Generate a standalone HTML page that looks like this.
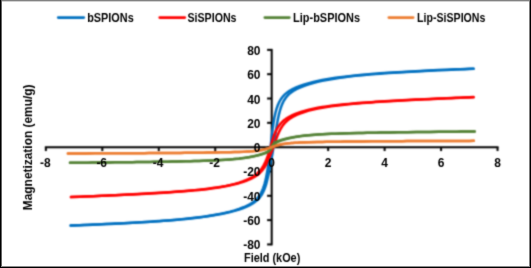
<!DOCTYPE html>
<html><head><meta charset="utf-8"><style>
html,body{margin:0;padding:0;background:#fff;}
body{width:531px;height:268px;overflow:hidden;font-family:"Liberation Sans",sans-serif;}
svg{display:block;}
</style></head><body>
<svg width="531" height="268" viewBox="0 0 531 268">
<rect width="531" height="268" fill="#fff"/>
<defs><filter id="bl" x="0" y="0" width="531" height="268" filterUnits="userSpaceOnUse" color-interpolation-filters="sRGB"><feConvolveMatrix order="5" kernelMatrix="0.00009 0.00198 0.00548 0.00198 0.00009 0.00198 0.04220 0.11707 0.04220 0.00198 0.00548 0.11707 0.32480 0.11707 0.00548 0.00198 0.04220 0.11707 0.04220 0.00198 0.00009 0.00198 0.00548 0.00198 0.00009" edgeMode="none" preserveAlpha="false"/></filter><filter id="bt" x="0" y="0" width="531" height="268" filterUnits="userSpaceOnUse" color-interpolation-filters="sRGB"><feConvolveMatrix order="5" kernelMatrix="0.00000 0.00013 0.00070 0.00013 0.00000 0.00013 0.01910 0.09973 0.01910 0.00013 0.00070 0.09973 0.52080 0.09973 0.00070 0.00013 0.01910 0.09973 0.01910 0.00013 0.00000 0.00013 0.00070 0.00013 0.00000" edgeMode="none" preserveAlpha="false"/></filter></defs>
<g filter="url(#bl)">
<g stroke="#000" stroke-width="2.0" fill="none">
<line x1="44.86" y1="147.25" x2="498.54" y2="147.25"/>
<line x1="271.70" y1="48.92" x2="271.70" y2="245.38"/>
<line x1="45.86" y1="147.25" x2="45.86" y2="151.05"/>
<line x1="102.32" y1="147.25" x2="102.32" y2="151.05"/>
<line x1="158.78" y1="147.25" x2="158.78" y2="151.05"/>
<line x1="215.24" y1="147.25" x2="215.24" y2="151.05"/>
<line x1="271.70" y1="147.25" x2="271.70" y2="151.05"/>
<line x1="328.16" y1="147.25" x2="328.16" y2="151.05"/>
<line x1="384.62" y1="147.25" x2="384.62" y2="151.05"/>
<line x1="441.08" y1="147.25" x2="441.08" y2="151.05"/>
<line x1="497.54" y1="147.25" x2="497.54" y2="151.05"/>
<line x1="267.10" y1="244.43" x2="271.70" y2="244.43"/>
<line x1="267.10" y1="220.11" x2="271.70" y2="220.11"/>
<line x1="267.10" y1="195.79" x2="271.70" y2="195.79"/>
<line x1="267.10" y1="171.47" x2="271.70" y2="171.47"/>
<line x1="267.10" y1="147.15" x2="271.70" y2="147.15"/>
<line x1="267.10" y1="122.83" x2="271.70" y2="122.83"/>
<line x1="267.10" y1="98.51" x2="271.70" y2="98.51"/>
<line x1="267.10" y1="74.19" x2="271.70" y2="74.19"/>
<line x1="267.10" y1="49.87" x2="271.70" y2="49.87"/>
</g>
<polyline points="70.70,225.52 75.13,225.35 79.56,225.17 83.99,224.99 88.42,224.81 92.85,224.62 97.28,224.43 101.71,224.24 106.14,224.04 110.57,223.83 115.00,223.62 119.43,223.40 123.86,223.18 128.29,222.95 132.72,222.71 137.15,222.46 141.58,222.20 146.01,221.93 150.44,221.65 154.87,221.36 159.30,221.05 163.73,220.72 168.16,220.38 172.59,220.02 177.02,219.63 181.45,219.22 185.88,218.78 190.31,218.31 194.74,217.80 199.17,217.25 203.60,216.65 208.03,216.00 212.46,215.29 216.89,214.50 221.32,213.63 225.75,212.67 230.18,211.59 234.61,210.36 239.04,208.95 243.47,207.28 243.75,207.16 244.04,207.04 244.32,206.92 244.60,206.80 244.89,206.68 245.17,206.55 245.46,206.42 245.74,206.29 246.02,206.16 246.31,206.03 246.59,205.89 246.87,205.76 247.16,205.62 247.44,205.47 247.73,205.33 248.01,205.18 248.29,205.04 248.58,204.89 248.86,204.73 249.14,204.58 249.43,204.42 249.71,204.25 250.00,204.09 250.28,203.92 250.56,203.75 250.85,203.57 251.13,203.40 251.41,203.21 251.70,203.03 251.98,202.84 252.27,202.65 252.55,202.45 252.83,202.24 253.12,202.04 253.40,201.83 253.68,201.61 253.97,201.39 254.25,201.16 254.54,200.92 254.82,200.68 255.10,200.43 255.39,200.18 255.67,199.92 255.95,199.65 256.24,199.37 256.52,199.08 256.80,198.79 257.09,198.49 257.37,198.17 257.66,197.84 257.94,197.51 258.22,197.16 258.51,196.80 258.79,196.42 259.07,196.03 259.36,195.62 259.64,195.20 259.93,194.76 260.21,194.30 260.49,193.82 260.78,193.32 261.06,192.80 261.34,192.25 261.63,191.68 261.91,191.08 262.20,190.44 262.48,189.78 262.76,189.08 263.05,188.35 263.33,187.58 263.61,186.77 263.90,185.91 264.18,185.01 264.47,184.06 264.75,183.05 265.03,181.99 265.32,180.88 265.60,179.70 265.88,178.47 266.17,177.16 266.45,175.79 266.73,174.35 267.02,172.83 267.30,171.24 267.59,169.57 267.87,167.82 268.15,165.99 268.44,164.08 268.72,162.08 269.00,160.00 269.29,157.82 269.57,155.57 269.86,153.22 270.14,150.80 270.42,148.31 270.71,145.76 270.99,143.17 271.27,140.57 271.56,137.99 271.84,135.46 272.13,133.00 272.41,130.64 272.69,128.40 272.98,126.29 273.26,124.31 273.54,122.46 273.83,120.73 274.11,119.12 274.40,117.61 274.68,116.21 274.96,114.89 275.25,113.65 275.53,112.49 275.81,111.40 276.10,110.36 276.38,109.39 276.67,108.47 276.95,107.60 277.23,106.78 277.52,106.00 277.80,105.26 278.08,104.56 278.37,103.89 278.65,103.26 278.93,102.66 279.22,102.08 279.50,101.53 279.79,101.00 280.07,100.50 280.35,100.02 280.64,99.56 280.92,99.12 281.20,98.70 281.49,98.29 281.77,97.90 282.06,97.52 282.34,97.16 282.62,96.81 282.91,96.47 283.19,96.15 283.47,95.83 283.76,95.53 284.04,95.23 284.33,94.94 284.61,94.67 284.89,94.40 285.18,94.13 285.46,93.88 285.74,93.63 286.03,93.39 286.31,93.16 286.60,92.93 286.88,92.70 287.16,92.49 287.45,92.27 287.73,92.07 288.01,91.86 288.30,91.66 288.58,91.47 288.86,91.28 289.15,91.09 289.43,90.91 289.72,90.73 290.00,90.56 290.28,90.39 290.57,90.22 290.85,90.05 291.13,89.89 291.42,89.73 291.70,89.58 291.99,89.42 292.27,89.27 292.55,89.12 292.84,88.98 293.12,88.83 293.40,88.69 293.69,88.55 293.97,88.41 294.26,88.28 294.54,88.15 294.82,88.01 295.11,87.88 295.39,87.76 295.67,87.63 295.96,87.51 296.24,87.38 296.53,87.26 296.81,87.14 297.09,87.03 297.38,86.91 297.66,86.79 297.94,86.68 298.23,86.57 298.51,86.46 298.80,86.35 299.08,86.24 299.36,86.13 299.65,86.03 299.93,85.92 304.38,84.42 308.83,83.13 313.28,81.99 317.74,80.98 322.19,80.08 326.64,79.27 331.09,78.53 335.54,77.86 339.99,77.24 344.45,76.67 348.90,76.15 353.35,75.66 357.80,75.21 362.25,74.79 366.70,74.39 371.16,74.02 375.61,73.67 380.06,73.34 384.51,73.03 388.96,72.73 393.41,72.44 397.87,72.17 402.32,71.91 406.77,71.65 411.22,71.41 415.67,71.18 420.12,70.95 424.58,70.73 429.03,70.52 433.48,70.31 437.93,70.11 442.38,69.91 446.83,69.72 451.29,69.53 455.74,69.34 460.19,69.16 464.64,68.99 469.09,68.81 473.54,68.64" fill="none" stroke="#0070C0" stroke-width="2.5" stroke-linejoin="round" stroke-linecap="round"/>
<polyline points="70.70,225.58 75.13,225.41 79.56,225.24 83.99,225.06 88.42,224.88 92.85,224.69 97.28,224.50 101.71,224.31 106.14,224.11 110.57,223.91 115.00,223.70 119.43,223.49 123.86,223.26 128.29,223.04 132.72,222.80 137.15,222.55 141.58,222.30 146.01,222.03 150.44,221.76 154.87,221.47 159.30,221.17 163.73,220.85 168.16,220.51 172.59,220.16 177.02,219.78 181.45,219.38 185.88,218.95 190.31,218.49 194.74,218.00 199.17,217.46 203.60,216.88 208.03,216.25 212.46,215.57 216.89,214.81 221.32,213.98 225.75,213.05 230.18,212.02 234.61,210.85 239.04,209.51 243.47,207.95 243.75,207.84 244.04,207.73 244.32,207.62 244.60,207.51 244.89,207.39 245.17,207.28 245.46,207.16 245.74,207.04 246.02,206.92 246.31,206.80 246.59,206.67 246.87,206.55 247.16,206.42 247.44,206.29 247.73,206.16 248.01,206.02 248.29,205.89 248.58,205.75 248.86,205.61 249.14,205.47 249.43,205.33 249.71,205.18 250.00,205.03 250.28,204.88 250.56,204.73 250.85,204.57 251.13,204.41 251.41,204.25 251.70,204.08 251.98,203.92 252.27,203.74 252.55,203.57 252.83,203.39 253.12,203.21 253.40,203.02 253.68,202.83 253.97,202.64 254.25,202.44 254.54,202.24 254.82,202.03 255.10,201.82 255.39,201.60 255.67,201.38 255.95,201.15 256.24,200.91 256.52,200.67 256.80,200.43 257.09,200.17 257.37,199.91 257.66,199.64 257.94,199.36 258.22,199.08 258.51,198.78 258.79,198.48 259.07,198.16 259.36,197.83 259.64,197.50 259.93,197.15 260.21,196.78 260.49,196.41 260.78,196.02 261.06,195.61 261.34,195.19 261.63,194.75 261.91,194.29 262.20,193.81 262.48,193.31 262.76,192.78 263.05,192.24 263.33,191.66 263.61,191.06 263.90,190.43 264.18,189.76 264.47,189.07 264.75,188.34 265.03,187.57 265.32,186.76 265.60,185.90 265.88,185.01 266.17,184.06 266.45,183.07 266.73,182.03 267.02,180.93 267.30,179.78 267.59,178.58 267.87,177.33 268.15,176.03 268.44,174.68 268.72,173.28 269.00,171.85 269.29,170.38 269.57,168.89 269.86,167.39 270.14,165.87 270.42,164.36 270.71,162.85 270.99,161.35 271.27,159.85 271.56,158.34 271.84,156.82 272.13,155.27 272.41,153.68 272.69,152.03 272.98,150.33 273.26,148.57 273.54,146.75 273.83,144.89 274.11,142.99 274.40,141.06 274.68,139.13 274.96,137.19 275.25,135.26 275.53,133.35 275.81,131.48 276.10,129.65 276.38,127.87 276.67,126.14 276.95,124.47 277.23,122.86 277.52,121.31 277.80,119.83 278.08,118.41 278.37,117.06 278.65,115.77 278.93,114.54 279.22,113.38 279.50,112.27 279.79,111.22 280.07,110.22 280.35,109.27 280.64,108.37 280.92,107.51 281.20,106.70 281.49,105.93 281.77,105.20 282.06,104.50 282.34,103.84 282.62,103.21 282.91,102.61 283.19,102.04 283.47,101.49 283.76,100.97 284.04,100.47 284.33,99.99 284.61,99.53 284.89,99.09 285.18,98.67 285.46,98.26 285.74,97.87 286.03,97.50 286.31,97.13 286.60,96.79 286.88,96.45 287.16,96.12 287.45,95.81 287.73,95.50 288.01,95.21 288.30,94.92 288.58,94.65 288.86,94.38 289.15,94.12 289.43,93.86 289.72,93.61 290.00,93.37 290.28,93.14 290.57,92.91 290.85,92.69 291.13,92.47 291.42,92.26 291.70,92.05 291.99,91.85 292.27,91.65 292.55,91.46 292.84,91.27 293.12,91.08 293.40,90.90 293.69,90.72 293.97,90.55 294.26,90.38 294.54,90.21 294.82,90.04 295.11,89.88 295.39,89.72 295.67,89.57 295.96,89.41 296.24,89.26 296.53,89.11 296.81,88.97 297.09,88.82 297.38,88.68 297.66,88.54 297.94,88.40 298.23,88.27 298.51,88.14 298.80,88.00 299.08,87.88 299.36,87.75 299.65,87.62 299.93,87.50 304.38,85.74 308.83,84.27 313.28,82.99 317.74,81.87 322.19,80.88 326.64,79.99 331.09,79.18 335.54,78.45 339.99,77.78 344.45,77.17 348.90,76.61 353.35,76.09 357.80,75.61 362.25,75.16 366.70,74.74 371.16,74.35 375.61,73.98 380.06,73.63 384.51,73.30 388.96,72.99 393.41,72.69 397.87,72.41 402.32,72.14 406.77,71.88 411.22,71.63 415.67,71.38 420.12,71.15 424.58,70.92 429.03,70.71 433.48,70.49 437.93,70.29 442.38,70.08 446.83,69.89 451.29,69.69 455.74,69.51 460.19,69.32 464.64,69.14 469.09,68.97 473.54,68.79" fill="none" stroke="#0070C0" stroke-width="2.5" stroke-linejoin="round" stroke-linecap="round"/>
<polyline points="70.98,197.04 75.41,196.86 79.83,196.68 84.25,196.50 88.68,196.31 93.10,196.13 97.52,195.94 101.94,195.74 106.37,195.55 110.79,195.35 115.21,195.14 119.63,194.94 124.06,194.72 128.48,194.51 132.90,194.29 137.33,194.06 141.75,193.82 146.17,193.58 150.59,193.34 155.02,193.08 159.44,192.81 163.86,192.53 168.28,192.24 172.71,191.94 177.13,191.62 181.55,191.28 185.97,190.93 190.40,190.54 194.82,190.13 199.24,189.69 203.67,189.21 208.09,188.68 212.51,188.10 216.93,187.45 221.36,186.72 225.78,185.89 230.20,184.95 234.62,183.86 239.05,182.59 243.47,181.08 243.75,180.97 244.04,180.86 244.32,180.75 244.60,180.64 244.89,180.53 245.17,180.42 245.46,180.30 245.74,180.19 246.02,180.07 246.31,179.95 246.59,179.83 246.87,179.70 247.16,179.58 247.44,179.45 247.73,179.32 248.01,179.19 248.29,179.06 248.58,178.93 248.86,178.79 249.14,178.65 249.43,178.51 249.71,178.37 250.00,178.23 250.28,178.08 250.56,177.93 250.85,177.78 251.13,177.62 251.41,177.46 251.70,177.30 251.98,177.14 252.27,176.97 252.55,176.80 252.83,176.63 253.12,176.46 253.40,176.28 253.68,176.09 253.97,175.91 254.25,175.71 254.54,175.52 254.82,175.32 255.10,175.12 255.39,174.91 255.67,174.69 255.95,174.47 256.24,174.25 256.52,174.02 256.80,173.78 257.09,173.54 257.37,173.30 257.66,173.04 257.94,172.78 258.22,172.51 258.51,172.23 258.79,171.95 259.07,171.65 259.36,171.35 259.64,171.04 259.93,170.72 260.21,170.38 260.49,170.04 260.78,169.68 261.06,169.32 261.34,168.94 261.63,168.55 261.91,168.14 262.20,167.72 262.48,167.29 262.76,166.84 263.05,166.37 263.33,165.89 263.61,165.39 263.90,164.87 264.18,164.34 264.47,163.78 264.75,163.21 265.03,162.62 265.32,162.01 265.60,161.37 265.88,160.72 266.17,160.05 266.45,159.35 266.73,158.64 267.02,157.90 267.30,157.15 267.59,156.37 267.87,155.57 268.15,154.75 268.44,153.91 268.72,153.04 269.00,152.16 269.29,151.25 269.57,150.32 269.86,149.37 270.14,148.40 270.42,147.40 270.71,146.40 270.99,145.38 271.27,144.35 271.56,143.33 271.84,142.31 272.13,141.31 272.41,140.34 272.69,139.39 272.98,138.48 273.26,137.60 273.54,136.76 273.83,135.95 274.11,135.18 274.40,134.44 274.68,133.73 274.96,133.05 275.25,132.39 275.53,131.76 275.81,131.16 276.10,130.57 276.38,130.01 276.67,129.47 276.95,128.95 277.23,128.45 277.52,127.96 277.80,127.49 278.08,127.04 278.37,126.60 278.65,126.18 278.93,125.78 279.22,125.38 279.50,125.00 279.79,124.63 280.07,124.28 280.35,123.93 280.64,123.60 280.92,123.28 281.20,122.97 281.49,122.66 281.77,122.37 282.06,122.08 282.34,121.80 282.62,121.54 282.91,121.27 283.19,121.02 283.47,120.77 283.76,120.53 284.04,120.29 284.33,120.06 284.61,119.84 284.89,119.62 285.18,119.40 285.46,119.19 285.74,118.99 286.03,118.79 286.31,118.60 286.60,118.40 286.88,118.22 287.16,118.03 287.45,117.85 287.73,117.68 288.01,117.50 288.30,117.33 288.58,117.17 288.86,117.00 289.15,116.84 289.43,116.69 289.72,116.53 290.00,116.38 290.28,116.23 290.57,116.08 290.85,115.94 291.13,115.79 291.42,115.65 291.70,115.51 291.99,115.38 292.27,115.24 292.55,115.11 292.84,114.98 293.12,114.85 293.40,114.73 293.69,114.60 293.97,114.48 294.26,114.36 294.54,114.24 294.82,114.12 295.11,114.00 295.39,113.89 295.67,113.77 295.96,113.66 296.24,113.55 296.53,113.44 296.81,113.33 297.09,113.23 297.38,113.12 297.66,113.02 297.94,112.91 298.23,112.81 298.51,112.71 298.80,112.61 299.08,112.52 299.36,112.42 299.65,112.32 299.93,112.23 304.38,110.87 308.83,109.71 313.28,108.72 317.74,107.85 322.19,107.08 326.64,106.41 331.09,105.80 335.54,105.25 339.99,104.75 344.45,104.29 348.90,103.87 353.35,103.48 357.80,103.11 362.25,102.77 366.70,102.44 371.16,102.13 375.61,101.84 380.06,101.55 384.51,101.28 388.96,101.02 393.41,100.77 397.87,100.53 402.32,100.29 406.77,100.06 411.22,99.84 415.67,99.62 420.12,99.40 424.58,99.19 429.03,98.99 433.48,98.79 437.93,98.59 442.38,98.39 446.83,98.20 451.29,98.01 455.74,97.83 460.19,97.64 464.64,97.46 469.09,97.28 473.54,97.10" fill="none" stroke="#FF0000" stroke-width="2.5" stroke-linejoin="round" stroke-linecap="round"/>
<polyline points="70.98,197.12 75.41,196.94 79.83,196.76 84.25,196.58 88.68,196.40 93.10,196.21 97.52,196.02 101.94,195.83 106.37,195.63 110.79,195.44 115.21,195.23 119.63,195.03 124.06,194.82 128.48,194.60 132.90,194.39 137.33,194.16 141.75,193.93 146.17,193.69 150.59,193.45 155.02,193.19 159.44,192.93 163.86,192.66 168.28,192.38 172.71,192.08 177.13,191.77 181.55,191.44 185.97,191.09 190.40,190.72 194.82,190.32 199.24,189.89 203.67,189.43 208.09,188.92 212.51,188.36 216.93,187.75 221.36,187.05 225.78,186.27 230.20,185.39 234.62,184.37 239.05,183.18 243.47,181.79 243.75,181.69 244.04,181.59 244.32,181.49 244.60,181.39 244.89,181.28 245.17,181.18 245.46,181.07 245.74,180.97 246.02,180.86 246.31,180.75 246.59,180.64 246.87,180.53 247.16,180.41 247.44,180.30 247.73,180.18 248.01,180.06 248.29,179.94 248.58,179.82 248.86,179.70 249.14,179.58 249.43,179.45 249.71,179.32 250.00,179.19 250.28,179.06 250.56,178.92 250.85,178.79 251.13,178.65 251.41,178.51 251.70,178.37 251.98,178.22 252.27,178.07 252.55,177.92 252.83,177.77 253.12,177.62 253.40,177.46 253.68,177.30 253.97,177.13 254.25,176.97 254.54,176.80 254.82,176.63 255.10,176.45 255.39,176.27 255.67,176.09 255.95,175.90 256.24,175.71 256.52,175.51 256.80,175.31 257.09,175.11 257.37,174.90 257.66,174.69 257.94,174.47 258.22,174.24 258.51,174.01 258.79,173.78 259.07,173.53 259.36,173.29 259.64,173.03 259.93,172.77 260.21,172.50 260.49,172.22 260.78,171.94 261.06,171.64 261.34,171.34 261.63,171.03 261.91,170.70 262.20,170.37 262.48,170.03 262.76,169.67 263.05,169.31 263.33,168.93 263.61,168.53 263.90,168.13 264.18,167.71 264.47,167.27 264.75,166.82 265.03,166.36 265.32,165.88 265.60,165.38 265.88,164.86 266.17,164.33 266.45,163.78 266.73,163.22 267.02,162.63 267.30,162.03 267.59,161.41 267.87,160.77 268.15,160.12 268.44,159.46 268.72,158.78 269.00,158.10 269.29,157.40 269.57,156.70 269.86,156.00 270.14,155.30 270.42,154.60 270.71,153.90 270.99,153.21 271.27,152.52 271.56,151.83 271.84,151.14 272.13,150.43 272.41,149.72 272.69,148.99 272.98,148.24 273.26,147.47 273.54,146.69 273.83,145.90 274.11,145.09 274.40,144.28 274.68,143.45 274.96,142.63 275.25,141.81 275.53,141.00 275.81,140.19 276.10,139.39 276.38,138.61 276.67,137.83 276.95,137.08 277.23,136.33 277.52,135.61 277.80,134.91 278.08,134.22 278.37,133.55 278.65,132.90 278.93,132.27 279.22,131.66 279.50,131.07 279.79,130.50 280.07,129.95 280.35,129.42 280.64,128.90 280.92,128.40 281.20,127.92 281.49,127.46 281.77,127.01 282.06,126.57 282.34,126.15 282.62,125.75 282.91,125.36 283.19,124.98 283.47,124.61 283.76,124.26 284.04,123.91 284.33,123.58 284.61,123.26 284.89,122.95 285.18,122.64 285.46,122.35 285.74,122.06 286.03,121.79 286.31,121.52 286.60,121.26 286.88,121.00 287.16,120.75 287.45,120.51 287.73,120.28 288.01,120.05 288.30,119.82 288.58,119.60 288.86,119.39 289.15,119.18 289.43,118.98 289.72,118.78 290.00,118.58 290.28,118.39 290.57,118.20 290.85,118.02 291.13,117.84 291.42,117.67 291.70,117.49 291.99,117.32 292.27,117.16 292.55,116.99 292.84,116.83 293.12,116.68 293.40,116.52 293.69,116.37 293.97,116.22 294.26,116.07 294.54,115.93 294.82,115.78 295.11,115.64 295.39,115.51 295.67,115.37 295.96,115.24 296.24,115.10 296.53,114.97 296.81,114.84 297.09,114.72 297.38,114.59 297.66,114.47 297.94,114.35 298.23,114.23 298.51,114.11 298.80,114.00 299.08,113.88 299.36,113.77 299.65,113.65 299.93,113.54 304.38,111.97 308.83,110.65 313.28,109.53 317.74,108.55 322.19,107.71 326.64,106.96 331.09,106.29 335.54,105.70 339.99,105.16 344.45,104.67 348.90,104.22 353.35,103.80 357.80,103.41 362.25,103.05 366.70,102.71 371.16,102.39 375.61,102.08 380.06,101.79 384.51,101.51 388.96,101.24 393.41,100.98 397.87,100.73 402.32,100.49 406.77,100.25 411.22,100.02 415.67,99.80 420.12,99.58 424.58,99.37 429.03,99.16 433.48,98.95 437.93,98.75 442.38,98.55 446.83,98.36 451.29,98.17 455.74,97.98 460.19,97.79 464.64,97.61 469.09,97.43 473.54,97.25" fill="none" stroke="#FF0000" stroke-width="2.5" stroke-linejoin="round" stroke-linecap="round"/>
<polyline points="70.00,162.80 74.44,162.76 78.89,162.72 83.34,162.68 87.79,162.64 92.24,162.59 96.68,162.55 101.13,162.50 105.58,162.46 110.03,162.41 114.48,162.36 118.93,162.31 123.37,162.26 127.82,162.21 132.27,162.16 136.72,162.10 141.17,162.04 145.61,161.98 150.06,161.92 154.51,161.85 158.96,161.78 163.41,161.71 167.85,161.63 172.30,161.55 176.75,161.47 181.20,161.37 185.65,161.27 190.09,161.16 194.54,161.05 198.99,160.92 203.44,160.78 207.89,160.62 212.33,160.44 216.78,160.23 221.23,160.00 225.68,159.73 230.13,159.41 234.57,159.02 239.02,158.56 243.47,158.00 243.75,157.96 244.04,157.92 244.32,157.88 244.60,157.84 244.89,157.80 245.17,157.76 245.46,157.71 245.74,157.67 246.02,157.63 246.31,157.58 246.59,157.54 246.87,157.49 247.16,157.45 247.44,157.40 247.73,157.35 248.01,157.30 248.29,157.26 248.58,157.21 248.86,157.16 249.14,157.11 249.43,157.05 249.71,157.00 250.00,156.95 250.28,156.90 250.56,156.84 250.85,156.79 251.13,156.73 251.41,156.68 251.70,156.62 251.98,156.57 252.27,156.51 252.55,156.45 252.83,156.39 253.12,156.33 253.40,156.27 253.68,156.21 253.97,156.14 254.25,156.08 254.54,156.02 254.82,155.95 255.10,155.89 255.39,155.82 255.67,155.75 255.95,155.69 256.24,155.62 256.52,155.55 256.80,155.48 257.09,155.41 257.37,155.33 257.66,155.26 257.94,155.18 258.22,155.11 258.51,155.03 258.79,154.96 259.07,154.88 259.36,154.80 259.64,154.72 259.93,154.64 260.21,154.55 260.49,154.47 260.78,154.38 261.06,154.30 261.34,154.21 261.63,154.12 261.91,154.03 262.20,153.94 262.48,153.84 262.76,153.75 263.05,153.65 263.33,153.55 263.61,153.45 263.90,153.34 264.18,153.23 264.47,153.12 264.75,153.01 265.03,152.89 265.32,152.77 265.60,152.64 265.88,152.51 266.17,152.37 266.45,152.23 266.73,152.07 267.02,151.91 267.30,151.74 267.59,151.55 267.87,151.35 268.15,151.13 268.44,150.89 268.72,150.63 269.00,150.34 269.29,150.01 269.57,149.66 269.86,149.27 270.14,148.84 270.42,148.38 270.71,147.89 270.99,147.38 271.27,146.87 271.56,146.35 271.84,145.86 272.13,145.39 272.41,144.95 272.69,144.56 272.98,144.20 273.26,143.87 273.54,143.58 273.83,143.32 274.11,143.08 274.40,142.87 274.68,142.67 274.96,142.49 275.25,142.32 275.53,142.16 275.81,142.01 276.10,141.86 276.38,141.73 276.67,141.60 276.95,141.47 277.23,141.35 277.52,141.24 277.80,141.12 278.08,141.02 278.37,140.91 278.65,140.81 278.93,140.70 279.22,140.60 279.50,140.51 279.79,140.41 280.07,140.32 280.35,140.23 280.64,140.14 280.92,140.05 281.20,139.96 281.49,139.87 281.77,139.79 282.06,139.71 282.34,139.62 282.62,139.54 282.91,139.46 283.19,139.38 283.47,139.31 283.76,139.23 284.04,139.15 284.33,139.08 284.61,139.01 284.89,138.93 285.18,138.86 285.46,138.79 285.74,138.72 286.03,138.65 286.31,138.58 286.60,138.51 286.88,138.45 287.16,138.38 287.45,138.32 287.73,138.25 288.01,138.19 288.30,138.13 288.58,138.06 288.86,138.00 289.15,137.94 289.43,137.88 289.72,137.82 290.00,137.77 290.28,137.71 290.57,137.65 290.85,137.59 291.13,137.54 291.42,137.48 291.70,137.43 291.99,137.38 292.27,137.32 292.55,137.27 292.84,137.22 293.12,137.17 293.40,137.12 293.69,137.07 293.97,137.02 294.26,136.97 294.54,136.93 294.82,136.88 295.11,136.83 295.39,136.79 295.67,136.74 295.96,136.70 296.24,136.65 296.53,136.61 296.81,136.57 297.09,136.52 297.38,136.48 297.66,136.44 297.94,136.40 298.23,136.36 298.51,136.32 298.80,136.28 299.08,136.24 299.36,136.20 299.65,136.16 299.93,136.13 304.41,135.59 308.89,135.15 313.37,134.79 317.85,134.48 322.33,134.22 326.81,134.00 331.29,133.80 335.77,133.63 340.26,133.47 344.74,133.33 349.22,133.21 353.70,133.09 358.18,132.99 362.66,132.89 367.14,132.80 371.62,132.71 376.10,132.63 380.58,132.56 385.06,132.49 389.54,132.42 394.02,132.35 398.50,132.29 402.98,132.23 407.46,132.17 411.95,132.12 416.43,132.06 420.91,132.01 425.39,131.96 429.87,131.91 434.35,131.86 438.83,131.82 443.31,131.77 447.79,131.73 452.27,131.68 456.75,131.64 461.23,131.60 465.71,131.56 470.19,131.52 474.67,131.48" fill="none" stroke="#538135" stroke-width="2.5" stroke-linejoin="round" stroke-linecap="round"/>
<polyline points="70.00,162.81 74.44,162.77 78.89,162.73 83.34,162.68 87.79,162.64 92.24,162.60 96.68,162.56 101.13,162.51 105.58,162.47 110.03,162.42 114.48,162.37 118.93,162.32 123.37,162.27 127.82,162.22 132.27,162.17 136.72,162.11 141.17,162.05 145.61,161.99 150.06,161.93 154.51,161.87 158.96,161.80 163.41,161.73 167.85,161.65 172.30,161.57 176.75,161.48 181.20,161.39 185.65,161.29 190.09,161.19 194.54,161.07 198.99,160.94 203.44,160.80 207.89,160.65 212.33,160.47 216.78,160.27 221.23,160.05 225.68,159.78 230.13,159.47 234.57,159.10 239.02,158.66 243.47,158.12 243.75,158.08 244.04,158.04 244.32,158.00 244.60,157.96 244.89,157.92 245.17,157.88 245.46,157.84 245.74,157.80 246.02,157.76 246.31,157.71 246.59,157.67 246.87,157.63 247.16,157.58 247.44,157.54 247.73,157.49 248.01,157.44 248.29,157.40 248.58,157.35 248.86,157.30 249.14,157.25 249.43,157.21 249.71,157.16 250.00,157.10 250.28,157.05 250.56,157.00 250.85,156.95 251.13,156.90 251.41,156.84 251.70,156.79 251.98,156.73 252.27,156.68 252.55,156.62 252.83,156.56 253.12,156.51 253.40,156.45 253.68,156.39 253.97,156.33 254.25,156.27 254.54,156.21 254.82,156.14 255.10,156.08 255.39,156.02 255.67,155.95 255.95,155.89 256.24,155.82 256.52,155.75 256.80,155.68 257.09,155.62 257.37,155.55 257.66,155.48 257.94,155.40 258.22,155.33 258.51,155.26 258.79,155.18 259.07,155.11 259.36,155.03 259.64,154.95 259.93,154.88 260.21,154.80 260.49,154.72 260.78,154.64 261.06,154.55 261.34,154.47 261.63,154.38 261.91,154.30 262.20,154.21 262.48,154.12 262.76,154.03 263.05,153.94 263.33,153.84 263.61,153.75 263.90,153.65 264.18,153.55 264.47,153.44 264.75,153.34 265.03,153.23 265.32,153.12 265.60,153.01 265.88,152.89 266.17,152.77 266.45,152.64 266.73,152.51 267.02,152.38 267.30,152.23 267.59,152.08 267.87,151.92 268.15,151.75 268.44,151.57 268.72,151.38 269.00,151.17 269.29,150.95 269.57,150.70 269.86,150.44 270.14,150.16 270.42,149.85 270.71,149.52 270.99,149.17 271.27,148.79 271.56,148.40 271.84,147.99 272.13,147.57 272.41,147.13 272.69,146.70 272.98,146.27 273.26,145.84 273.54,145.44 273.83,145.05 274.11,144.69 274.40,144.35 274.68,144.04 274.96,143.76 275.25,143.50 275.53,143.26 275.81,143.03 276.10,142.83 276.38,142.64 276.67,142.46 276.95,142.30 277.23,142.14 277.52,141.99 277.80,141.85 278.08,141.72 278.37,141.59 278.65,141.47 278.93,141.35 279.22,141.23 279.50,141.12 279.79,141.01 280.07,140.91 280.35,140.80 280.64,140.70 280.92,140.60 281.20,140.50 281.49,140.41 281.77,140.32 282.06,140.22 282.34,140.13 282.62,140.05 282.91,139.96 283.19,139.87 283.47,139.79 283.76,139.70 284.04,139.62 284.33,139.54 284.61,139.46 284.89,139.38 285.18,139.30 285.46,139.23 285.74,139.15 286.03,139.08 286.31,139.00 286.60,138.93 286.88,138.86 287.16,138.79 287.45,138.72 287.73,138.65 288.01,138.58 288.30,138.51 288.58,138.45 288.86,138.38 289.15,138.31 289.43,138.25 289.72,138.19 290.00,138.12 290.28,138.06 290.57,138.00 290.85,137.94 291.13,137.88 291.42,137.82 291.70,137.76 291.99,137.71 292.27,137.65 292.55,137.59 292.84,137.54 293.12,137.48 293.40,137.43 293.69,137.38 293.97,137.32 294.26,137.27 294.54,137.22 294.82,137.17 295.11,137.12 295.39,137.07 295.67,137.02 295.96,136.97 296.24,136.92 296.53,136.88 296.81,136.83 297.09,136.79 297.38,136.74 297.66,136.70 297.94,136.65 298.23,136.61 298.51,136.56 298.80,136.52 299.08,136.48 299.36,136.44 299.65,136.40 299.93,136.36 304.41,135.78 308.89,135.31 313.37,134.92 317.85,134.59 322.33,134.32 326.81,134.08 331.29,133.87 335.77,133.69 340.26,133.53 344.74,133.39 349.22,133.25 353.70,133.14 358.18,133.03 362.66,132.93 367.14,132.83 371.62,132.75 376.10,132.66 380.58,132.59 385.06,132.51 389.54,132.44 394.02,132.38 398.50,132.31 402.98,132.25 407.46,132.19 411.95,132.14 416.43,132.08 420.91,132.03 425.39,131.98 429.87,131.93 434.35,131.88 438.83,131.84 443.31,131.79 447.79,131.74 452.27,131.70 456.75,131.66 461.23,131.62 465.71,131.57 470.19,131.53 474.67,131.49" fill="none" stroke="#538135" stroke-width="2.5" stroke-linejoin="round" stroke-linecap="round"/>
<polyline points="67.88,153.44 72.38,153.43 76.88,153.41 81.39,153.40 85.89,153.39 90.39,153.37 94.89,153.36 99.40,153.35 103.90,153.33 108.40,153.31 112.90,153.30 117.40,153.28 121.91,153.26 126.41,153.24 130.91,153.22 135.41,153.20 139.92,153.17 144.42,153.15 148.92,153.12 153.42,153.09 157.93,153.06 162.43,153.03 166.93,153.00 171.43,152.96 175.94,152.93 180.44,152.89 184.94,152.85 189.44,152.80 193.94,152.75 198.45,152.70 202.95,152.64 207.45,152.58 211.95,152.52 216.46,152.44 220.96,152.36 225.46,152.27 229.96,152.17 234.47,152.05 238.97,151.90 243.47,151.73 243.75,151.71 244.04,151.70 244.32,151.69 244.60,151.68 244.89,151.66 245.17,151.65 245.46,151.63 245.74,151.62 246.02,151.61 246.31,151.59 246.59,151.58 246.87,151.56 247.16,151.54 247.44,151.53 247.73,151.51 248.01,151.50 248.29,151.48 248.58,151.46 248.86,151.44 249.14,151.43 249.43,151.41 249.71,151.39 250.00,151.37 250.28,151.35 250.56,151.33 250.85,151.31 251.13,151.29 251.41,151.27 251.70,151.25 251.98,151.22 252.27,151.20 252.55,151.18 252.83,151.15 253.12,151.13 253.40,151.10 253.68,151.08 253.97,151.05 254.25,151.02 254.54,151.00 254.82,150.97 255.10,150.94 255.39,150.91 255.67,150.88 255.95,150.85 256.24,150.81 256.52,150.78 256.80,150.74 257.09,150.71 257.37,150.67 257.66,150.64 257.94,150.60 258.22,150.56 258.51,150.52 258.79,150.48 259.07,150.43 259.36,150.39 259.64,150.34 259.93,150.30 260.21,150.25 260.49,150.20 260.78,150.15 261.06,150.09 261.34,150.04 261.63,149.98 261.91,149.93 262.20,149.87 262.48,149.81 262.76,149.75 263.05,149.68 263.33,149.62 263.61,149.55 263.90,149.48 264.18,149.41 264.47,149.34 264.75,149.27 265.03,149.19 265.32,149.12 265.60,149.04 265.88,148.96 266.17,148.88 266.45,148.79 266.73,148.71 267.02,148.62 267.30,148.54 267.59,148.45 267.87,148.35 268.15,148.26 268.44,148.17 268.72,148.07 269.00,147.98 269.29,147.88 269.57,147.78 269.86,147.68 270.14,147.58 270.42,147.47 270.71,147.37 270.99,147.27 271.27,147.16 271.56,147.05 271.84,146.95 272.13,146.84 272.41,146.74 272.69,146.64 272.98,146.53 273.26,146.43 273.54,146.33 273.83,146.23 274.11,146.14 274.40,146.04 274.68,145.95 274.96,145.86 275.25,145.77 275.53,145.68 275.81,145.59 276.10,145.51 276.38,145.42 276.67,145.34 276.95,145.26 277.23,145.18 277.52,145.11 277.80,145.03 278.08,144.96 278.37,144.89 278.65,144.82 278.93,144.75 279.22,144.68 279.50,144.62 279.79,144.55 280.07,144.49 280.35,144.43 280.64,144.37 280.92,144.32 281.20,144.26 281.49,144.21 281.77,144.15 282.06,144.10 282.34,144.05 282.62,144.01 282.91,143.96 283.19,143.91 283.47,143.87 283.76,143.83 284.04,143.78 284.33,143.74 284.61,143.70 284.89,143.66 285.18,143.63 285.46,143.59 285.74,143.56 286.03,143.52 286.31,143.49 286.60,143.45 286.88,143.42 287.16,143.39 287.45,143.36 287.73,143.33 288.01,143.30 288.30,143.28 288.58,143.25 288.86,143.22 289.15,143.20 289.43,143.17 289.72,143.15 290.00,143.12 290.28,143.10 290.57,143.08 290.85,143.05 291.13,143.03 291.42,143.01 291.70,142.99 291.99,142.97 292.27,142.95 292.55,142.93 292.84,142.91 293.12,142.89 293.40,142.87 293.69,142.86 293.97,142.84 294.26,142.82 294.54,142.80 294.82,142.79 295.11,142.77 295.39,142.76 295.67,142.74 295.96,142.72 296.24,142.71 296.53,142.70 296.81,142.68 297.09,142.67 297.38,142.65 297.66,142.64 297.94,142.63 298.23,142.61 298.51,142.60 298.80,142.59 299.08,142.57 299.36,142.56 299.65,142.55 299.93,142.54 304.39,142.37 308.85,142.23 313.31,142.11 317.77,142.01 322.22,141.93 326.68,141.85 331.14,141.78 335.60,141.71 340.06,141.65 344.52,141.60 348.98,141.54 353.44,141.50 357.90,141.45 362.35,141.41 366.81,141.37 371.27,141.33 375.73,141.30 380.19,141.27 384.65,141.24 389.11,141.21 393.57,141.18 398.03,141.15 402.48,141.13 406.94,141.11 411.40,141.08 415.86,141.06 420.32,141.04 424.78,141.02 429.24,141.01 433.70,140.99 438.16,140.97 442.61,140.96 447.07,140.94 451.53,140.93 455.99,140.91 460.45,140.90 464.91,140.89 469.37,140.88 473.83,140.87" fill="none" stroke="#ED7D31" stroke-width="2.5" stroke-linejoin="round" stroke-linecap="round"/>
<polyline points="67.88,153.44 72.38,153.43 76.88,153.42 81.39,153.40 85.89,153.39 90.39,153.38 94.89,153.36 99.40,153.35 103.90,153.33 108.40,153.32 112.90,153.30 117.40,153.28 121.91,153.26 126.41,153.24 130.91,153.22 135.41,153.20 139.92,153.18 144.42,153.15 148.92,153.12 153.42,153.10 157.93,153.07 162.43,153.04 166.93,153.00 171.43,152.97 175.94,152.93 180.44,152.89 184.94,152.85 189.44,152.81 193.94,152.76 198.45,152.71 202.95,152.65 207.45,152.59 211.95,152.52 216.46,152.45 220.96,152.37 225.46,152.28 229.96,152.18 234.47,152.06 238.97,151.92 243.47,151.75 243.75,151.74 244.04,151.73 244.32,151.71 244.60,151.70 244.89,151.69 245.17,151.68 245.46,151.66 245.74,151.65 246.02,151.63 246.31,151.62 246.59,151.61 246.87,151.59 247.16,151.58 247.44,151.56 247.73,151.54 248.01,151.53 248.29,151.51 248.58,151.50 248.86,151.48 249.14,151.46 249.43,151.44 249.71,151.43 250.00,151.41 250.28,151.39 250.56,151.37 250.85,151.35 251.13,151.33 251.41,151.31 251.70,151.29 251.98,151.27 252.27,151.25 252.55,151.22 252.83,151.20 253.12,151.18 253.40,151.15 253.68,151.13 253.97,151.10 254.25,151.08 254.54,151.05 254.82,151.02 255.10,151.00 255.39,150.97 255.67,150.94 255.95,150.91 256.24,150.88 256.52,150.85 256.80,150.81 257.09,150.78 257.37,150.74 257.66,150.71 257.94,150.67 258.22,150.64 258.51,150.60 258.79,150.56 259.07,150.52 259.36,150.47 259.64,150.43 259.93,150.39 260.21,150.34 260.49,150.29 260.78,150.25 261.06,150.20 261.34,150.15 261.63,150.09 261.91,150.04 262.20,149.98 262.48,149.93 262.76,149.87 263.05,149.81 263.33,149.75 263.61,149.68 263.90,149.62 264.18,149.55 264.47,149.48 264.75,149.41 265.03,149.34 265.32,149.27 265.60,149.19 265.88,149.12 266.17,149.04 266.45,148.96 266.73,148.88 267.02,148.80 267.30,148.71 267.59,148.63 267.87,148.54 268.15,148.45 268.44,148.36 268.72,148.27 269.00,148.18 269.29,148.09 269.57,148.00 269.86,147.90 270.14,147.81 270.42,147.72 270.71,147.62 270.99,147.53 271.27,147.44 271.56,147.34 271.84,147.25 272.13,147.16 272.41,147.06 272.69,146.97 272.98,146.88 273.26,146.78 273.54,146.69 273.83,146.59 274.11,146.50 274.40,146.40 274.68,146.31 274.96,146.22 275.25,146.12 275.53,146.03 275.81,145.94 276.10,145.85 276.38,145.76 276.67,145.67 276.95,145.59 277.23,145.50 277.52,145.42 277.80,145.34 278.08,145.26 278.37,145.18 278.65,145.10 278.93,145.03 279.22,144.96 279.50,144.88 279.79,144.81 280.07,144.75 280.35,144.68 280.64,144.61 280.92,144.55 281.20,144.49 281.49,144.43 281.77,144.37 282.06,144.31 282.34,144.26 282.62,144.21 282.91,144.15 283.19,144.10 283.47,144.05 283.76,144.00 284.04,143.96 284.33,143.91 284.61,143.87 284.89,143.82 285.18,143.78 285.46,143.74 285.74,143.70 286.03,143.66 286.31,143.63 286.60,143.59 286.88,143.55 287.16,143.52 287.45,143.49 287.73,143.45 288.01,143.42 288.30,143.39 288.58,143.36 288.86,143.33 289.15,143.30 289.43,143.28 289.72,143.25 290.00,143.22 290.28,143.20 290.57,143.17 290.85,143.15 291.13,143.12 291.42,143.10 291.70,143.08 291.99,143.05 292.27,143.03 292.55,143.01 292.84,142.99 293.12,142.97 293.40,142.95 293.69,142.93 293.97,142.91 294.26,142.89 294.54,142.87 294.82,142.86 295.11,142.84 295.39,142.82 295.67,142.80 295.96,142.79 296.24,142.77 296.53,142.76 296.81,142.74 297.09,142.72 297.38,142.71 297.66,142.69 297.94,142.68 298.23,142.67 298.51,142.65 298.80,142.64 299.08,142.62 299.36,142.61 299.65,142.60 299.93,142.59 304.39,142.41 308.85,142.26 313.31,142.14 317.77,142.04 322.22,141.95 326.68,141.87 331.14,141.79 335.60,141.73 340.06,141.67 344.52,141.61 348.98,141.56 353.44,141.51 357.90,141.46 362.35,141.42 366.81,141.38 371.27,141.34 375.73,141.31 380.19,141.27 384.65,141.24 389.11,141.21 393.57,141.19 398.03,141.16 402.48,141.13 406.94,141.11 411.40,141.09 415.86,141.07 420.32,141.05 424.78,141.03 429.24,141.01 433.70,140.99 438.16,140.98 442.61,140.96 447.07,140.95 451.53,140.93 455.99,140.92 460.45,140.90 464.91,140.89 469.37,140.88 473.83,140.87" fill="none" stroke="#ED7D31" stroke-width="2.5" stroke-linejoin="round" stroke-linecap="round"/>
<line x1="58.2" y1="17.6" x2="83.8" y2="17.6" stroke="#0070C0" stroke-width="2.6" stroke-linecap="round"/>
<line x1="159.7" y1="17.6" x2="184.8" y2="17.6" stroke="#FF0000" stroke-width="2.6" stroke-linecap="round"/>
<line x1="264.8" y1="17.6" x2="289.40000000000003" y2="17.6" stroke="#538135" stroke-width="2.6" stroke-linecap="round"/>
<line x1="388.8" y1="17.6" x2="413.2" y2="17.6" stroke="#ED7D31" stroke-width="2.6" stroke-linecap="round"/>
</g>
<g filter="url(#bt)">
<g font-family="Liberation Sans, sans-serif" font-weight="bold" fill="#000" font-size="12.6" text-anchor="end">
<text x="260.5" y="249.43" textLength="17.34" lengthAdjust="spacingAndGlyphs">-80</text>
<text x="260.5" y="225.11" textLength="17.34" lengthAdjust="spacingAndGlyphs">-60</text>
<text x="260.5" y="200.79" textLength="17.34" lengthAdjust="spacingAndGlyphs">-40</text>
<text x="260.5" y="176.47" textLength="17.34" lengthAdjust="spacingAndGlyphs">-20</text>
<text x="260.5" y="152.15" textLength="6.67" lengthAdjust="spacingAndGlyphs">0</text>
<text x="260.5" y="127.83" textLength="13.34" lengthAdjust="spacingAndGlyphs">20</text>
<text x="260.5" y="103.51" textLength="13.34" lengthAdjust="spacingAndGlyphs">40</text>
<text x="260.5" y="79.19" textLength="13.34" lengthAdjust="spacingAndGlyphs">60</text>
<text x="260.5" y="54.87" textLength="13.34" lengthAdjust="spacingAndGlyphs">80</text>
</g>
<g font-family="Liberation Sans, sans-serif" font-weight="bold" fill="#000" font-size="12.6" text-anchor="middle">
<text x="45.26" y="167.3" textLength="10.67" lengthAdjust="spacingAndGlyphs">-8</text>
<text x="101.72" y="167.3" textLength="10.67" lengthAdjust="spacingAndGlyphs">-6</text>
<text x="158.18" y="167.3" textLength="10.67" lengthAdjust="spacingAndGlyphs">-4</text>
<text x="214.64" y="167.3" textLength="10.67" lengthAdjust="spacingAndGlyphs">-2</text>
<text x="271.70" y="167.3" textLength="6.67" lengthAdjust="spacingAndGlyphs">0</text>
<text x="328.16" y="167.3" textLength="6.67" lengthAdjust="spacingAndGlyphs">2</text>
<text x="384.62" y="167.3" textLength="6.67" lengthAdjust="spacingAndGlyphs">4</text>
<text x="441.08" y="167.3" textLength="6.67" lengthAdjust="spacingAndGlyphs">6</text>
<text x="497.54" y="167.3" textLength="6.67" lengthAdjust="spacingAndGlyphs">8</text>
</g>
<text font-family="Liberation Sans, sans-serif" font-weight="bold" fill="#000" font-size="12" x="244" y="262.4" textLength="56.3" lengthAdjust="spacingAndGlyphs">Field (kOe)</text>
<text font-family="Liberation Sans, sans-serif" font-weight="bold" fill="#000" font-size="12" transform="translate(31.7,210.2) rotate(-90)" x="0" y="0" textLength="125.7" lengthAdjust="spacingAndGlyphs">Magnetization (emu/g)</text>
<text font-family="Liberation Sans, sans-serif" font-weight="bold" fill="#000" font-size="12.6" x="87.2" y="21.6" textLength="46.5" lengthAdjust="spacingAndGlyphs">bSPIONs</text>
<text font-family="Liberation Sans, sans-serif" font-weight="bold" fill="#000" font-size="12.6" x="187.5" y="21.6" textLength="49.0" lengthAdjust="spacingAndGlyphs">SiSPIONs</text>
<text font-family="Liberation Sans, sans-serif" font-weight="bold" fill="#000" font-size="12.6" x="293.1" y="21.6" textLength="66.9" lengthAdjust="spacingAndGlyphs">Lip-bSPIONs</text>
<text font-family="Liberation Sans, sans-serif" font-weight="bold" fill="#000" font-size="12.6" x="417.1" y="21.6" textLength="68.3" lengthAdjust="spacingAndGlyphs">Lip-SiSPIONs</text>
</g>
<rect x="0" y="0" width="531" height="1" fill="#828282"/>
<rect x="0" y="1" width="531" height="1" fill="#d0d0d0"/>
<rect x="1" y="0" width="1" height="268" fill="#666"/>
<rect x="529" y="0" width="1" height="268" fill="#808080"/>
<rect x="0" y="266" width="531" height="1" fill="#8a8a8a"/>
<rect x="0" y="267" width="531" height="1" fill="#000"/>
<rect x="0" y="0" width="1" height="268" fill="#000"/>
<rect x="530" y="0" width="1" height="268" fill="#000"/>
</svg>
</body></html>
